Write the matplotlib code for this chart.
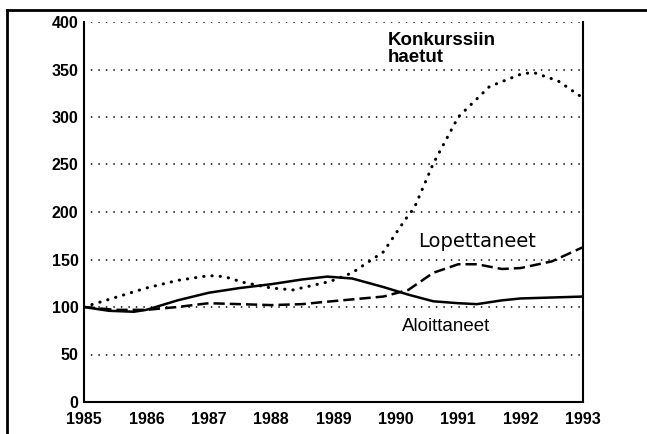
import matplotlib
matplotlib.use("Agg")
import matplotlib.pyplot as plt
from matplotlib.lines import Line2D

plt.rcParams["font.family"] = ["Liberation Sans", "DejaVu Sans"]

# Values (index, 1985 = 100)
aloit_x = [1985.0, 1985.4, 1985.8, 1986.0, 1986.5, 1987.0, 1987.5, 1988.0, 1988.5,
           1988.9, 1989.3, 1989.8, 1990.2, 1990.6, 1991.0, 1991.3, 1991.7, 1992.0,
           1992.5, 1993.0]
aloit_y = [100, 96, 95, 97, 107, 115, 120, 124, 129,
           132, 130, 121, 113, 106, 104, 103, 107, 109,
           110, 111]

lopet_x = [1985.0, 1985.5, 1986.0, 1986.5, 1987.0, 1987.5, 1988.0, 1988.5, 1988.8,
           1989.3, 1989.8, 1990.2, 1990.6, 1991.0, 1991.3, 1991.7, 1992.0, 1992.5,
           1993.0]
lopet_y = [100, 97, 97, 100, 104, 103, 102, 103, 105,
           108, 111, 118, 136, 145, 145, 140, 141, 148,
           163]

konk_x = [1985.0, 1985.5, 1986.0, 1986.5, 1987.0, 1987.25, 1987.55, 1988.0, 1988.35,
          1988.95, 1989.3, 1989.8, 1990.15, 1990.3, 1990.6, 1991.0, 1991.5, 1992.0,
          1992.2, 1992.6, 1993.0]
konk_y = [100, 110, 120, 128, 133, 132, 126, 120, 118,
          127, 136, 158, 192, 205, 251, 300, 332, 345,
          347, 338, 320]

years = list(range(1985, 1994))
yticks = list(range(0, 401, 50))

fig = plt.figure(figsize=(6.47, 4.34), dpi=100)
ax = fig.add_axes([84 / 647, 1 - 402 / 434, 499 / 647, 380 / 434])

ax.plot(aloit_x, aloit_y, color="black", lw=1.8, solid_capstyle="round")
ax.plot(lopet_x, lopet_y, color="black", lw=1.8, linestyle=(0, (4.5, 2.0)))
ax.plot(konk_x, konk_y, color="black", lw=2.2, linestyle=(0, (0.1, 2.6)),
        dash_capstyle="round")

for v in yticks[1:]:
    ax.axhline(v, color="black", lw=1.2, linestyle=(0, (0.1, 4.4)),
               dash_capstyle="round", zorder=0)

ax.set_xlim(1985, 1993)
ax.set_ylim(0, 400)
ax.set_xticks(years)
ax.set_yticks(yticks)
ax.tick_params(length=0, labelsize=11.5)
ax.tick_params(axis="x", pad=7)
ax.tick_params(axis="y", pad=4)
for lab in ax.get_xticklabels() + ax.get_yticklabels():
    lab.set_fontweight("bold")
ax.spines["top"].set_visible(False)
for s in ["left", "right", "bottom"]:
    ax.spines[s].set_linewidth(1.5)

ax.text(1989.87, 389, "Konkurssiin\nhaetut", fontsize=13.5, fontweight="bold",
        va="top", ha="left", linespacing=1.0)
ax.text(1990.35, 169, "Lopettaneet", fontsize=14, family="DejaVu Sans",
        va="center", ha="left")
ax.text(1990.1, 79, "Aloittaneet", fontsize=13.5, va="center", ha="left")

# outer frame of the scanned page
fig.add_artist(Line2D([7 / 647, 7 / 647], [0, 1 - 10 / 434], color="black", lw=2))
fig.add_artist(Line2D([7 / 647, 1], [1 - 10 / 434, 1 - 10 / 434], color="black", lw=2))

fig.savefig("out.png", dpi=100)
